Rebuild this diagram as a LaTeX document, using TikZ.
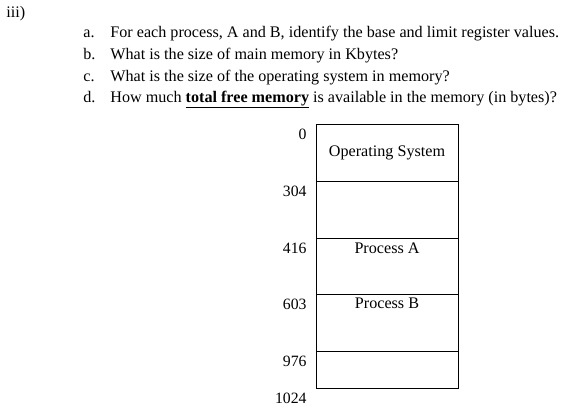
\documentclass[tikz,border=0pt]{standalone}
\usepackage{fontspec}
\setmainfont{Liberation Serif}
\usetikzlibrary{positioning}
\tikzset{
    seg/.style = {draw, rectangle, minimum width=142bp,
        inner sep=0pt, outer sep=0pt},
    addr/.style = {inner sep=0pt, font=\fontsize{15.8}{18}\selectfont},
    ques/.style = {anchor=base west, inner sep=0pt, font=\fontsize{16.2}{19}\selectfont},
    seglabel/.style = {inner sep=0pt, font=\fontsize{16.2}{19}\selectfont}
}

\begin{document}
\begin{tikzpicture}[x=1bp, y=-1bp, line width=0.8bp]
        \useasboundingbox (0,0) rectangle (570,410);
        \node [ques] (part) at (6,17.5) {iii)};
        % questions
        \node [ques] (la) at (83,37.5) {a.};
        \node [ques] (qa) at (110,37.5) {For each process, A and B, identify the base and limit register values.};
        \node [ques] (lb) at (83,59.5) {b.};
        \node [ques] (qb) at (110,59.5) {What is the size of main memory in Kbytes?};
        \node [ques] (lc) at (83,81.5) {c.};
        \node [ques] (qc) at (110,81.5) {What is the size of the operating system in memory?};
        \node [ques] (ld) at (83,102.5) {d.};
        \node [ques] (qd) at (110,102.5) {How much \underline{\textbf{total free memory}} is available in the memory (in bytes)?};
        % memory map
        \node [seg, minimum height=57bp, anchor=north west] (os) at (316,124) {};
        \node [seg, minimum height=57bp, below=0pt of os] (hole1) {};
        \node [seg, minimum height=56bp, below=0pt of hole1] (procA) {};
        \node [seg, minimum height=57bp, below=0pt of procA] (procB) {};
        \node [seg, minimum height=37bp, below=0pt of procB] (hole2) {};
        \node [seglabel] (oslbl) at (os) {Operating System};
        \node [seglabel, below=4bp of procA.north] (alabel) {Process A};
        \node [seglabel, below=4bp of procB.north] (blabel) {Process B};
        % addresses
        \node [addr, below left=5bp and 9bp of os.north west] (a0) {0};
        \node [addr, below left=5bp and 9bp of hole1.north west] (a304) {304};
        \node [addr, below left=5bp and 9bp of procA.north west] (a416) {416};
        \node [addr, below left=5bp and 9bp of procB.north west] (a603) {603};
        \node [addr, below left=5bp and 9bp of hole2.north west] (a976) {976};
        \node [addr, below left=5bp and 9bp of hole2.south west] (a1024) {1024};
\end{tikzpicture}
\end{document}
